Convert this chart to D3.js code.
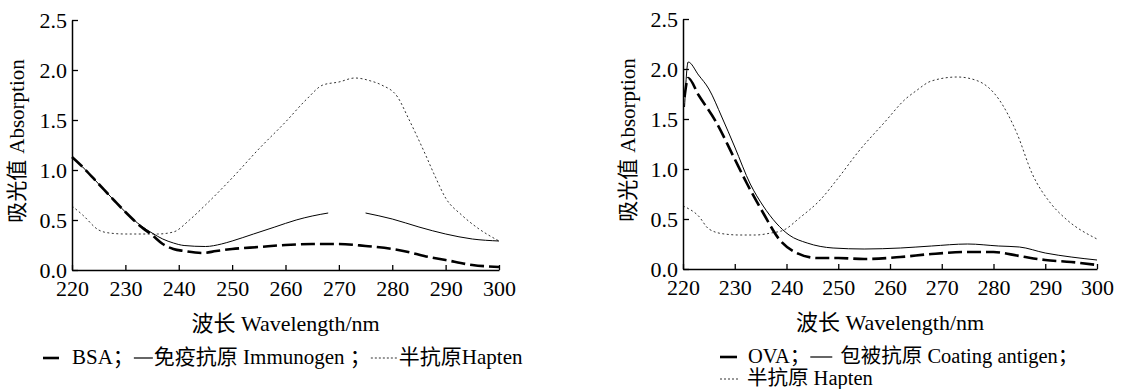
<!DOCTYPE html>
<html>
<head>
<meta charset="utf-8">
<script src="https://cdn.jsdelivr.net/npm/d3@7"></script>
<style>
  body { margin: 0; background: #fff; }
  svg text { font-family: "Liberation Serif", "Noto Sans CJK SC", serif; fill: #000; }
</style>
</head>
<body>
<svg id="chart" width="1123" height="389"></svg>
<script>
// wavelength axis + absorbance ticks
const xTicks = [220, 230, 240, 250, 260, 270, 280, 290, 300]
const yTicks = [0, 0.5, 1.0, 1.5, 2.0, 2.5]

// left panel: BSA / immunogen / hapten  ([wavelength, absorbance])
const bsa = [[220, 1.13], [222, 1.03], [225, 0.86], [228, 0.69], [230, 0.58], [233, 0.43], [235, 0.35], [237, 0.26], [239, 0.21], [241, 0.19], [244.5, 0.17], [247, 0.19], [250, 0.21], [255, 0.23], [260, 0.25], [265, 0.26], [270, 0.26], [275, 0.24], [280, 0.21], [283, 0.18], [286, 0.14], [290, 0.10], [295, 0.05], [300, 0.03]]
const immunogen = [[220, 1.13], [222, 1.03], [225, 0.86], [228, 0.69], [230, 0.58], [233, 0.44], [235, 0.37], [237, 0.31], [239, 0.27], [241, 0.245], [245, 0.235], [248, 0.26], [250, 0.29], [254, 0.36], [258, 0.43], [262, 0.50], [265, 0.54], [268, 0.57], [271, null], [275, 0.57], [280, 0.51], [285, 0.43], [290, 0.36], [295, 0.31], [300, 0.29]]
const haptenL = [[220, 0.64], [222, 0.55], [225, 0.40], [227, 0.37], [230, 0.36], [233, 0.36], [236, 0.36], [239, 0.38], [242, 0.50], [245, 0.65], [250, 0.92], [255, 1.21], [260, 1.48], [264, 1.71], [267, 1.85], [270, 1.88], [273, 1.92], [276, 1.89], [278, 1.85], [281, 1.73], [283, 1.52], [286, 1.18], [288, 0.94], [290, 0.72], [293, 0.55], [296, 0.42], [300, 0.29]]

// right panel: OVA / coating antigen / hapten
const ova = [[220.3, 1.72], [221, 1.91], [223, 1.74], [226.5, 1.46], [229.7, 1.13], [232.3, 0.86], [235.5, 0.56], [238.7, 0.29], [242, 0.16], [246, 0.11], [250, 0.11], [255, 0.10], [262, 0.12], [268, 0.15], [275, 0.17], [280, 0.17], [285, 0.13], [290, 0.09], [295, 0.07], [300, 0.04]]
const coating = [[220.3, 1.62], [221, 2.07], [223, 1.94], [225, 1.80], [227.5, 1.52], [230, 1.22], [233, 0.85], [235.5, 0.63], [238, 0.46], [240.5, 0.34], [244, 0.26], [249, 0.21], [255, 0.20], [262, 0.21], [268, 0.23], [275, 0.25], [281, 0.23], [285, 0.22], [290, 0.16], [295, 0.12], [300, 0.09]]
const haptenR = [[220, 0.63], [223, 0.53], [225, 0.40], [228, 0.35], [231, 0.34], [234, 0.34], [237, 0.36], [239.5, 0.39], [242.5, 0.51], [246.5, 0.69], [250, 0.91], [254, 1.18], [259, 1.47], [263, 1.70], [265, 1.78], [268, 1.88], [273, 1.92], [277, 1.88], [281, 1.70], [284.5, 1.36], [287.5, 0.95], [291, 0.66], [294, 0.50], [300, 0.30]]

const yLabel = ['吸光值', 'Absorption']
const xLabel = '波长 Wavelength/nm'

const styles = {
  bold: { width: 2.6, dash: '14,5', color: '#000' },
  thin: { width: 1, dash: null, color: '#000' },
  dot: { width: 1, dash: '2,2.5', color: '#333' }
}

const svg = d3.select('#chart')

function panel(opt) {
  const x = d3.scaleLinear().domain([220, 300]).range([opt.x0, opt.x1])
  const y = d3.scaleLinear().domain([0, 2.5]).range([opt.y0, opt.y1])
  const g = svg.append('g')

  const line = d3.line()
    .defined((d) => d[1] != null)
    .x((d) => x(d[0]))
    .y((d) => y(d[1]))
    .curve(d3.curveMonotoneX)

  opt.series.forEach((s) => {
    const st = styles[s.style]
    g.append('path')
      .datum(s.data)
      .attr('d', line)
      .attr('fill', 'none')
      .attr('stroke', st.color)
      .attr('stroke-width', st.width)
      .attr('stroke-dasharray', st.dash)
  })

  // axes, ticks pointing inward
  const xAxis = g.append('g')
    .attr('transform', `translate(0,${opt.y0})`)
    .call(d3.axisBottom(x).tickValues(xTicks).tickSizeInner(-5).tickSizeOuter(0).tickPadding(0))
  const yAxis = g.append('g')
    .attr('transform', `translate(${opt.x0},0)`)
    .call(d3.axisLeft(y).tickValues(yTicks).tickSizeInner(-6).tickSizeOuter(0).tickPadding(5).tickFormat(d3.format('.1f')))

  ;[xAxis, yAxis].forEach((a) => {
    a.select('.domain').attr('stroke-width', 1.5)
    a.selectAll('.tick line').attr('stroke-width', 1.3)
    a.selectAll('text').attr('font-size', 22).attr('font-family', '"Liberation Serif", serif')
  })
  xAxis.selectAll('text').attr('dy', 26)
  yAxis.selectAll('text').attr('dy', '0.33em')

  // y title
  const yt = g.append('text')
    .attr('transform', `translate(${opt.x0 - 48},${(opt.y0 + opt.y1) / 2 - 4}) rotate(-90)`)
    .attr('text-anchor', 'middle')
    .attr('font-size', 21)
  yt.append('tspan').text(yLabel[0])
  yt.append('tspan').attr('dx', 6).text(yLabel[1])

  g.append('text')
    .attr('x', (opt.x0 + opt.x1) / 2)
    .attr('y', opt.y0 + 61)
    .attr('text-anchor', 'middle')
    .attr('font-size', 22)
    .text(xLabel)

  // legend rows: sequence of [symbol style, label]
  opt.legend.forEach((row, ri) => {
    let cx = opt.legX
    const ly = opt.legY + ri * 22
    row.forEach((item) => {
      if (item.sym) {
        const st = styles[item.sym]
        g.append('line')
          .attr('x1', cx).attr('x2', cx + item.len)
          .attr('y1', ly - 6).attr('y2', ly - 6)
          .attr('stroke', st.color)
          .attr('stroke-width', item.sym === 'bold' ? 2.6 : 1.2)
          .attr('stroke-dasharray', item.sym === 'dot' ? '2,2' : null)
        cx += item.len + (item.gap || 0)
      } else {
        const t = g.append('text')
          .attr('x', cx).attr('y', ly)
          .attr('font-size', opt.legSize)
          .text(item.text)
        cx += t.node().getComputedTextLength() + (item.gap || 0)
      }
    })
  })
}

panel({
  x0: 72, x1: 499, y0: 270, y1: 20,
  series: [
    { data: haptenL, style: 'dot' },
    { data: immunogen, style: 'thin' },
    { data: bsa, style: 'bold' }
  ],
  legX: 43, legY: 364, legSize: 21,
  legend: [[
    { sym: 'bold', len: 16, gap: 13 },
    { text: 'BSA；', gap: 0 },
    { sym: 'thin', len: 19, gap: 1 },
    { text: '免疫抗原 Immunogen ；', gap: 0 },
    { sym: 'dot', len: 27, gap: 1 },
    { text: '半抗原Hapten' }
  ]]
})

panel({
  x0: 683, x1: 1097, y0: 269, y1: 19,
  series: [
    { data: haptenR, style: 'dot' },
    { data: coating, style: 'thin' },
    { data: ova, style: 'bold' }
  ],
  legX: 720, legY: 363, legSize: 20.5,
  legend: [
    [
      { sym: 'bold', len: 17, gap: 11 },
      { text: 'OVA；', gap: 0 },
      { sym: 'thin', len: 22, gap: 8 },
      { text: '包被抗原 Coating antigen；' }
    ],
    [
      { sym: 'dot', len: 18, gap: 9 },
      { text: '半抗原 Hapten' }
    ]
  ]
})
</script>
</body>
</html>
